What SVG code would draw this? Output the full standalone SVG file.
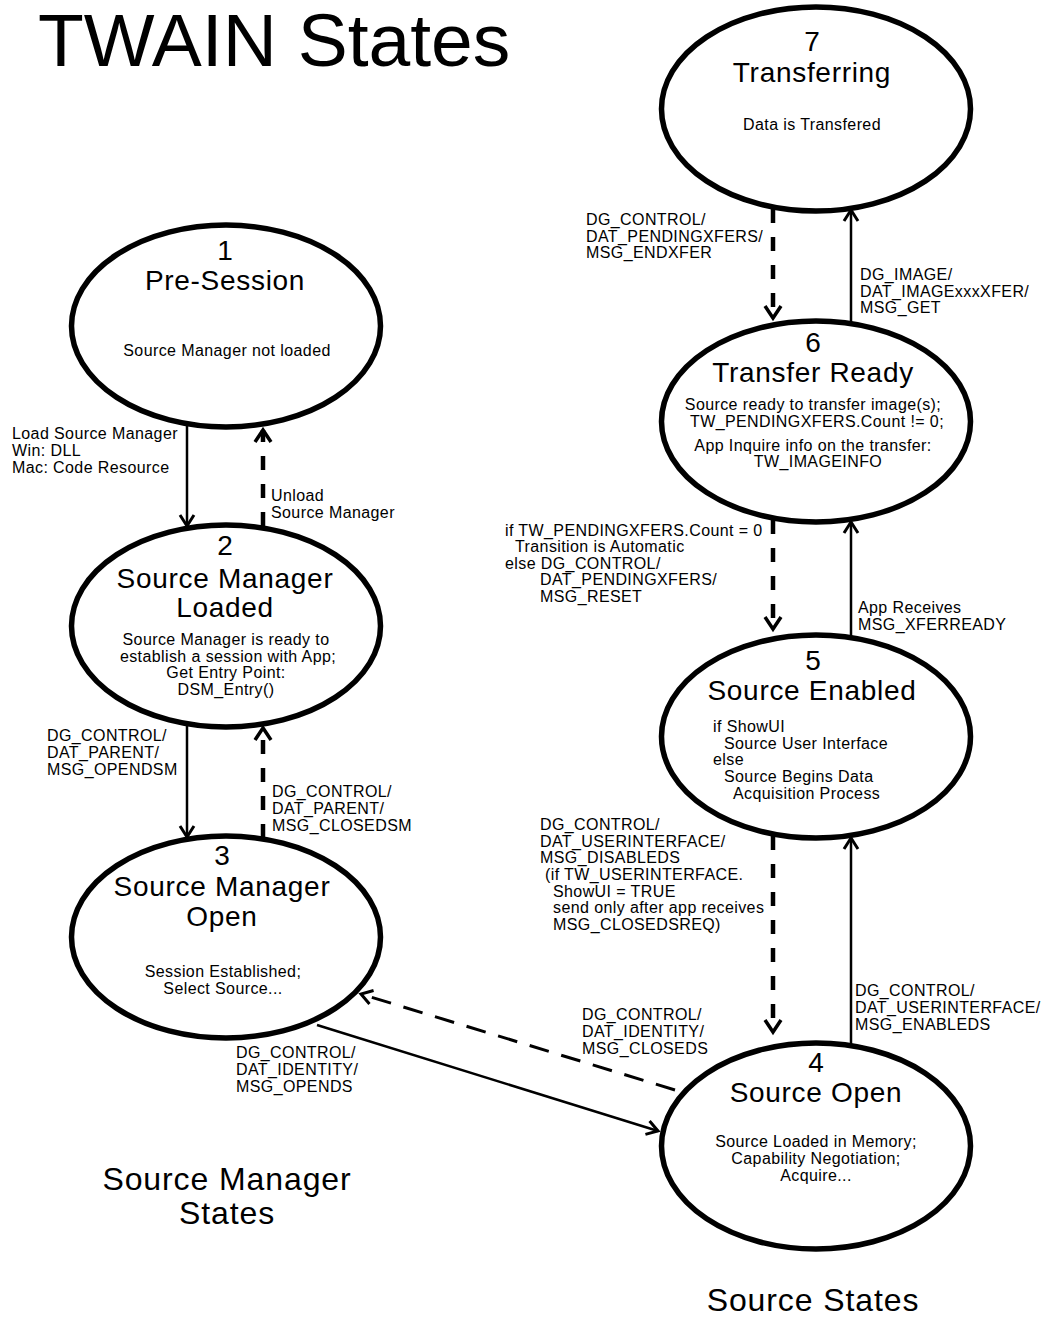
<svg xmlns="http://www.w3.org/2000/svg" width="1050" height="1319" viewBox="0 0 1050 1319">
<style>
text{font-family:"Liberation Sans",Arial,sans-serif;fill:#000}
.title{font-size:75px}
.big{font-size:32px;letter-spacing:0.9px;text-anchor:middle}
.num{font-size:28px;text-anchor:middle}
.head{font-size:28px;letter-spacing:0.7px;text-anchor:middle}
.sub{font-size:16px;letter-spacing:0.4px;text-anchor:middle}
.lbl{font-size:16px;letter-spacing:0.4px}
.node ellipse{fill:#fff;stroke:#000;stroke-width:5.5}
.solid{stroke:#000;stroke-width:2.5;fill:none}
.dash{stroke:#000;stroke-width:4.5;fill:none;stroke-dasharray:14 14}
.dashd{stroke:#000;stroke-width:3;fill:none;stroke-dasharray:20 13}
</style>
<defs>
<marker id="ah" markerUnits="userSpaceOnUse" markerWidth="20" markerHeight="20" refX="0" refY="0" orient="auto" overflow="visible">
<path d="M-11,-7 L0,0 L-11,7" fill="none" stroke="#000" stroke-width="3"/>
</marker>
<marker id="ahd" markerUnits="userSpaceOnUse" markerWidth="20" markerHeight="20" refX="0" refY="0" orient="auto" overflow="visible">
<path d="M-12,-8 L0,0 L-12,8" fill="none" stroke="#000" stroke-width="3.5"/>
</marker>
</defs>
<rect width="1050" height="1319" fill="#fff"/>
<text class="title" x="38" y="66">TWAIN States</text>
<g id="connectors">
<line class="solid" x1="187" y1="426" x2="187" y2="526" marker-end="url(#ah)"/>
<line class="dash" x1="263" y1="526" x2="263" y2="430" marker-end="url(#ahd)"/>
<line class="solid" x1="187" y1="726" x2="187" y2="837" marker-end="url(#ah)"/>
<line class="dash" x1="263" y1="838" x2="263" y2="728" marker-end="url(#ahd)"/>
<line class="solid" x1="317" y1="1025" x2="658" y2="1131" marker-end="url(#ah)"/>
<line class="dashd" x1="675" y1="1090" x2="361" y2="994" marker-end="url(#ah)"/>
<line class="solid" x1="851" y1="1044" x2="851" y2="838" marker-end="url(#ah)"/>
<line class="dash" x1="773" y1="836" x2="773" y2="1032" marker-end="url(#ahd)"/>
<line class="solid" x1="851" y1="636" x2="851" y2="522" marker-end="url(#ah)"/>
<line class="dash" x1="773" y1="520" x2="773" y2="629" marker-end="url(#ahd)"/>
<line class="solid" x1="851" y1="322" x2="851" y2="210" marker-end="url(#ah)"/>
<line class="dash" x1="773" y1="209" x2="773" y2="318" marker-end="url(#ahd)"/>
</g>
<g id="node1" class="node">
<ellipse cx="226" cy="326" rx="154.5" ry="101"/>
<text class="num" x="225" y="260">1</text>
<text class="head" x="225" y="290">Pre-Session</text>
<text class="sub" x="227" y="356">Source Manager not loaded</text>
</g>
<g id="node2" class="node">
<ellipse cx="226" cy="626" rx="154.5" ry="101"/>
<text class="num" x="225" y="555">2</text>
<text class="head" x="225" y="588">Source Manager</text>
<text class="head" x="225" y="617">Loaded</text>
<text class="sub" x="226" y="645">Source Manager is ready to</text>
<text class="sub" x="228" y="662">establish a session with App;</text>
<text class="sub" x="226" y="678">Get Entry Point:</text>
<text class="sub" x="226" y="695">DSM_Entry()</text>
</g>
<g id="node3" class="node">
<ellipse cx="226" cy="937" rx="154.5" ry="101"/>
<text class="num" x="222" y="865">3</text>
<text class="head" x="222" y="896">Source Manager</text>
<text class="head" x="222" y="926">Open</text>
<text class="sub" x="223" y="977">Session Established;</text>
<text class="sub" x="223" y="994">Select Source...</text>
</g>
<g id="node7" class="node">
<ellipse cx="816" cy="109" rx="154.5" ry="102"/>
<text class="num" x="812" y="51">7</text>
<text class="head" x="812" y="82">Transferring</text>
<text class="sub" x="812" y="130">Data is Transfered</text>
</g>
<g id="node6" class="node">
<ellipse cx="816" cy="421.5" rx="154.5" ry="100.5"/>
<text class="num" x="813" y="352">6</text>
<text class="head" x="813" y="382">Transfer Ready</text>
<text class="sub" x="813" y="410">Source ready to transfer image(s);</text>
<text class="sub" x="817" y="427">TW_PENDINGXFERS.Count != 0;</text>
<text class="sub" x="813" y="451">App Inquire info on the transfer:</text>
<text class="sub" x="818" y="467">TW_IMAGEINFO</text>
</g>
<g id="node5" class="node">
<ellipse cx="816" cy="736.5" rx="154.5" ry="101.5"/>
<text class="num" x="813" y="670">5</text>
<text class="head" x="812" y="700">Source Enabled</text>
<text class="lbl" x="713" y="732">if ShowUI</text>
<text class="lbl" x="724" y="749">Source User Interface</text>
<text class="lbl" x="713" y="765">else</text>
<text class="lbl" x="724" y="782">Source Begins Data</text>
<text class="lbl" x="733" y="799">Acquisition Process</text>
</g>
<g id="node4" class="node">
<ellipse cx="816" cy="1146" rx="154.5" ry="103"/>
<text class="num" x="816" y="1072">4</text>
<text class="head" x="816" y="1102">Source Open</text>
<text class="sub" x="816" y="1147">Source Loaded in Memory;</text>
<text class="sub" x="816" y="1164">Capability Negotiation;</text>
<text class="sub" x="816" y="1181">Acquire...</text>
</g>
<g id="labels">
<text class="lbl" x="12" y="439">Load Source Manager</text>
<text class="lbl" x="12" y="456">Win: DLL</text>
<text class="lbl" x="12" y="473">Mac: Code Resource</text>
<text class="lbl" x="271" y="501">Unload</text>
<text class="lbl" x="271" y="518">Source Manager</text>
<text class="lbl" x="47" y="741">DG_CONTROL/</text>
<text class="lbl" x="47" y="758">DAT_PARENT/</text>
<text class="lbl" x="47" y="775">MSG_OPENDSM</text>
<text class="lbl" x="272" y="797">DG_CONTROL/</text>
<text class="lbl" x="272" y="814">DAT_PARENT/</text>
<text class="lbl" x="272" y="831">MSG_CLOSEDSM</text>
<text class="lbl" x="236" y="1058">DG_CONTROL/</text>
<text class="lbl" x="236" y="1075">DAT_IDENTITY/</text>
<text class="lbl" x="236" y="1092">MSG_OPENDS</text>
<text class="lbl" x="582" y="1020">DG_CONTROL/</text>
<text class="lbl" x="582" y="1037">DAT_IDENTITY/</text>
<text class="lbl" x="582" y="1054">MSG_CLOSEDS</text>
<text class="lbl" x="540" y="830">DG_CONTROL/</text>
<text class="lbl" x="540" y="847">DAT_USERINTERFACE/</text>
<text class="lbl" x="540" y="863">MSG_DISABLEDS</text>
<text class="lbl" x="545" y="880">(if TW_USERINTERFACE.</text>
<text class="lbl" x="553" y="897">ShowUI = TRUE</text>
<text class="lbl" x="553" y="913">send only after app receives</text>
<text class="lbl" x="553" y="930">MSG_CLOSEDSREQ)</text>
<text class="lbl" x="855" y="996">DG_CONTROL/</text>
<text class="lbl" x="855" y="1013">DAT_USERINTERFACE/</text>
<text class="lbl" x="855" y="1030">MSG_ENABLEDS</text>
<text class="lbl" x="858" y="613">App Receives</text>
<text class="lbl" x="858" y="630">MSG_XFERREADY</text>
<text class="lbl" x="505" y="536">if TW_PENDINGXFERS.Count = 0</text>
<text class="lbl" x="515" y="552">Transition is Automatic</text>
<text class="lbl" x="505" y="569">else DG_CONTROL/</text>
<text class="lbl" x="540" y="585">DAT_PENDINGXFERS/</text>
<text class="lbl" x="540" y="602">MSG_RESET</text>
<text class="lbl" x="586" y="225">DG_CONTROL/</text>
<text class="lbl" x="586" y="242">DAT_PENDINGXFERS/</text>
<text class="lbl" x="586" y="258">MSG_ENDXFER</text>
<text class="lbl" x="860" y="280">DG_IMAGE/</text>
<text class="lbl" x="860" y="297">DAT_IMAGExxxXFER/</text>
<text class="lbl" x="860" y="313">MSG_GET</text>
</g>
<text class="big" x="227" y="1190">Source Manager</text>
<text class="big" x="227" y="1224">States</text>
<text class="big" x="813" y="1311">Source States</text>
</svg>
